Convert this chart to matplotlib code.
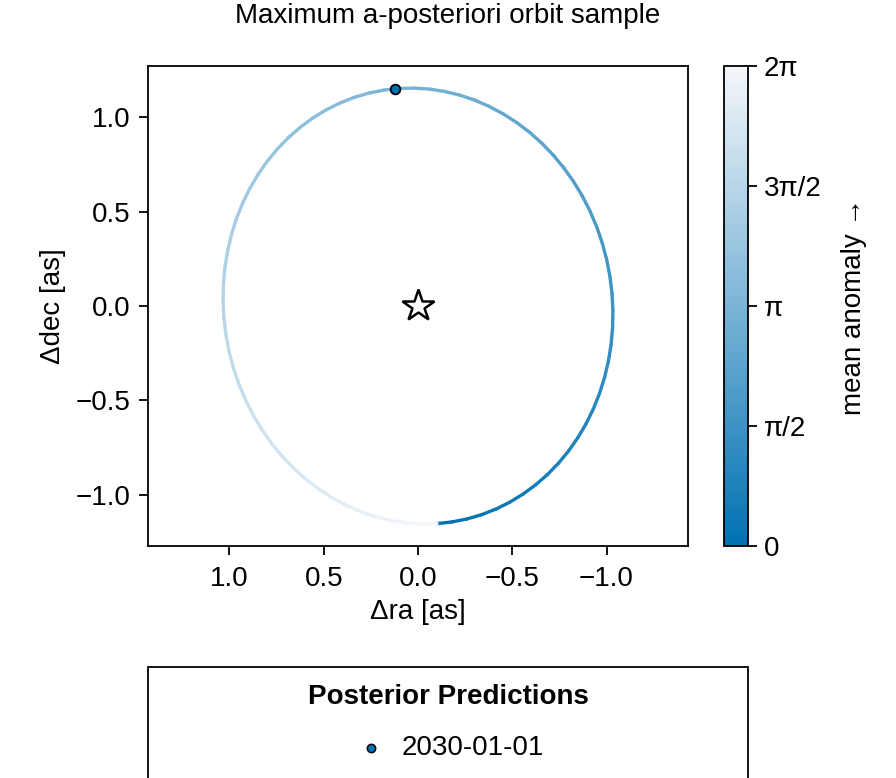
import matplotlib
matplotlib.use("Agg")
import matplotlib.pyplot as plt
import numpy as np
from matplotlib.collections import LineCollection
from matplotlib.colors import LinearSegmentedColormap, Normalize
from matplotlib.cm import ScalarMappable
from matplotlib.patches import Rectangle
from matplotlib.lines import Line2D
from matplotlib.ticker import FuncFormatter

plt.rcParams["font.family"] = ["Liberation Sans", "DejaVu Sans"]
plt.rcParams["font.size"] = 20
plt.rcParams["axes.linewidth"] = 1.3

# orbit track: offsets in arcsec, mean anomaly in rad
orbit_ra = [-0.1006, -0.1810, -0.2603, -0.3380, -0.4137, -0.4868, -0.5568,
            -0.6234, -0.6862, -0.7448, -0.7988, -0.8478, -0.8916, -0.9300,
            -0.9626, -0.9893, -1.0098, -1.0241, -1.0321, -1.0337, -1.0290,
            -1.0179, -1.0006, -0.9771, -0.9476, -0.9122, -0.8712, -0.8249,
            -0.7734, -0.7172, -0.6565, -0.5918, -0.5235, -0.4519, -0.3775,
            -0.3008, -0.2223, -0.1424, -0.0616, 0.0196,
            0.1006, 0.1810, 0.2603, 0.3380, 0.4137, 0.4868, 0.5568, 0.6234,
            0.6862, 0.7448, 0.7988, 0.8478, 0.8916, 0.9300, 0.9626, 0.9893,
            1.0098, 1.0241, 1.0321, 1.0337, 1.0290, 1.0179, 1.0006, 0.9771,
            0.9476, 0.9122, 0.8712, 0.8249, 0.7734, 0.7172, 0.6565, 0.5918,
            0.5235, 0.4519, 0.3775, 0.3008, 0.2223, 0.1424, 0.0616, -0.0196,
            -0.1006]
orbit_dec = [-1.1514, -1.1426, -1.1268, -1.1040, -1.0744, -1.0382, -0.9955,
             -0.9468, -0.8922, -0.8321, -0.7668, -0.6969, -0.6226, -0.5445,
             -0.4631, -0.3788, -0.2921, -0.2037, -0.1140, -0.0236, 0.0669,
             0.1570, 0.2462, 0.3339, 0.4195, 0.5025, 0.5824, 0.6587, 0.7309,
             0.7987, 0.8615, 0.9190, 0.9709, 1.0167, 1.0563, 1.0894, 1.1157,
             1.1352, 1.1477, 1.1531,
             1.1514, 1.1426, 1.1268, 1.1040, 1.0744, 1.0382, 0.9955, 0.9468,
             0.8922, 0.8321, 0.7668, 0.6969, 0.6226, 0.5445, 0.4631, 0.3788,
             0.2921, 0.2037, 0.1140, 0.0236, -0.0669, -0.1570, -0.2462,
             -0.3339, -0.4195, -0.5025, -0.5824, -0.6587, -0.7309, -0.7987,
             -0.8615, -0.9190, -0.9709, -1.0167, -1.0563, -1.0894, -1.1157,
             -1.1352, -1.1477, -1.1531, -1.1514]
orbit_ma = [0.00, 0.08, 0.16, 0.24, 0.31, 0.39, 0.47, 0.55, 0.63, 0.71,
            0.79, 0.86, 0.94, 1.02, 1.10, 1.18, 1.26, 1.34, 1.41, 1.49,
            1.57, 1.65, 1.73, 1.81, 1.88, 1.96, 2.04, 2.12, 2.20, 2.28,
            2.36, 2.44, 2.51, 2.59, 2.67, 2.75, 2.83, 2.91, 2.98, 3.06,
            3.14, 3.22, 3.30, 3.38, 3.46, 3.53, 3.61, 3.69, 3.77, 3.85,
            3.93, 4.01, 4.08, 4.16, 4.24, 4.32, 4.40, 4.48, 4.56, 4.63,
            4.71, 4.79, 4.87, 4.95, 5.03, 5.11, 5.18, 5.26, 5.34, 5.42,
            5.50, 5.58, 5.65, 5.73, 5.81, 5.89, 5.97, 6.05, 6.13, 6.20,
            6.28]

# predicted position
pred_labels = ["2030-01-01"]
pred_ra = [0.122]
pred_dec = [1.150]

cb_ticks = [0, np.pi / 2, np.pi, 3 * np.pi / 2, 2 * np.pi]
cb_ticklabels = ["0", "π/2", "π", "3π/2", "2π"]

W, H = 896, 778
fig = plt.figure(figsize=(W / 100, H / 100), dpi=100)

def fx(px):
    return px / W

def fy(py):
    return 1 - py / H

def fmt(v, pos):
    return ("%.1f" % v).replace("-", "\u2212")

cmap = LinearSegmentedColormap.from_list("ma", ["#0071b2", "#f5f7fa"])
norm = Normalize(0, 2 * np.pi)

ax = fig.add_axes([fx(148), fy(546), fx(688) - fx(148), fy(66) - fy(546)])
pts = np.column_stack([orbit_ra, orbit_dec])
segs = np.stack([pts[:-1], pts[1:]], axis=1)
ma = np.asarray(orbit_ma)
lc = LineCollection(segs, cmap=cmap, norm=norm, linewidths=2.4,
                    capstyle="round", joinstyle="round")
lc.set_array((ma[:-1] + ma[1:]) / 2)
ax.add_collection(lc)

ax.plot([0], [0], marker="*", ms=24, mfc="white", mec="black", mew=1.8,
        ls="none")
ax.plot(pred_ra, pred_dec, "o", ms=7, mfc="#0072b2", mec="black", mew=1.3,
        ls="none", zorder=5)

ax.set_xlim(1.432, -1.432)
ax.set_ylim(-1.27, 1.27)
ax.set_xticks([1.0, 0.5, 0.0, -0.5, -1.0])
ax.set_yticks([-1.0, -0.5, 0.0, 0.5, 1.0])
ax.xaxis.set_major_formatter(FuncFormatter(fmt))
ax.yaxis.set_major_formatter(FuncFormatter(fmt))
ax.tick_params(direction="out", length=6.5, width=1.3, labelsize=20, pad=6)
ax.tick_params(axis="x", pad=8)
ax.set_xlabel("Δra [as]", fontsize=20, labelpad=5)
ax.set_ylabel("Δdec [as]", fontsize=20, labelpad=7)

cax = fig.add_axes([fx(724), fy(546), fx(748) - fx(724), fy(66) - fy(546)])
cb = fig.colorbar(ScalarMappable(norm=norm, cmap=cmap), cax=cax)
cb.set_ticks(cb_ticks)
cb.set_ticklabels(cb_ticklabels)
cb.outline.set_linewidth(1.3)
cax.tick_params(direction="out", length=6.5, width=1.3, labelsize=20, pad=5)
cb.set_label("mean anomaly →", fontsize=20, labelpad=14)

fig.text(0.5, fy(16), "Maximum a-posteriori orbit sample", ha="center",
         va="center", fontsize=20)

# legend box, cut off at the bottom edge like the original
fig.patches.append(Rectangle((fx(148), fy(800)), fx(748) - fx(148),
                             fy(667) - fy(800), transform=fig.transFigure,
                             fill=False, ec="black", lw=1.3, clip_on=False))
fig.text(fx(448), fy(697), "Posterior Predictions", ha="center", va="center",
         fontsize=20, fontweight="bold")
fig.add_artist(Line2D([fx(371)], [fy(748)], marker="o", ms=6,
                      mfc="#0072b2", mec="black", mew=1.1, ls="none",
                      transform=fig.transFigure))
fig.text(fx(402), fy(748), pred_labels[0], ha="left", va="center",
         fontsize=20)

fig.savefig("out.png", dpi=100)
